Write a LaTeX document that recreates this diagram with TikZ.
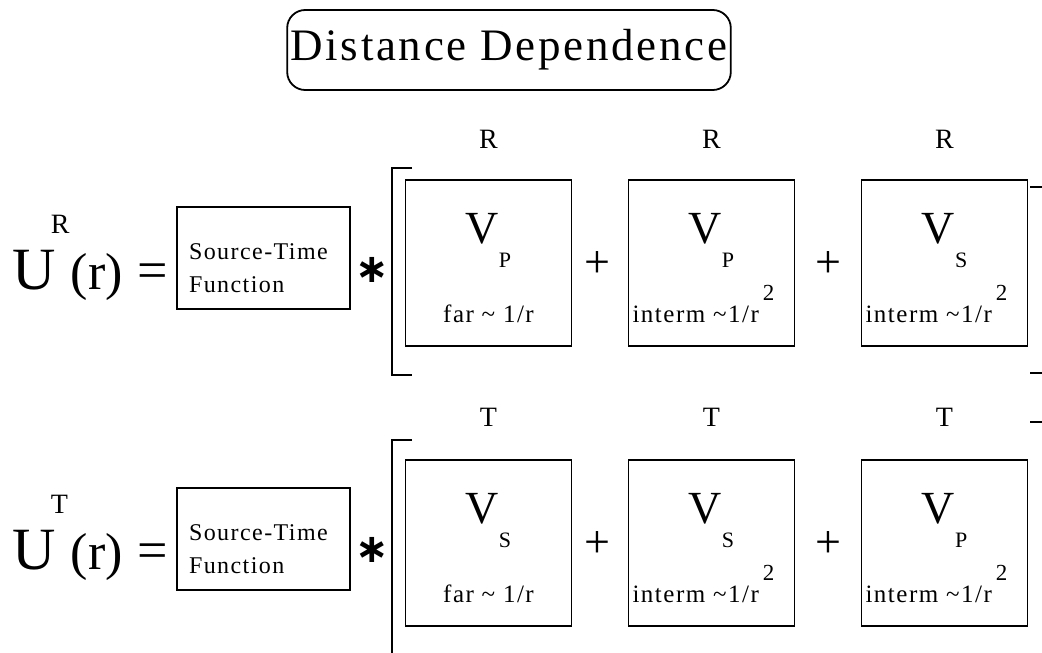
\documentclass[tikz,border=0pt]{standalone}
\usepackage{fontspec}
\setmainfont{Liberation Serif}
\newfontfamily\widefont{Liberation Serif}[LetterSpace=6]
\newfontfamily\starfont{DejaVu Sans Bold}
\usetikzlibrary{positioning}

\newcommand{\wavesub}[1]{\raisebox{-24pt}{\fontsize{22}{22}\selectfont #1}}
\newcommand{\sqpow}{\kern4pt\raisebox{22pt}{\fontsize{23}{23}\selectfont 2}}

\begin{document}
\begin{tikzpicture}[
        x=1pt, y=-1pt,
        line width=1.8pt,
        titlebox/.style={draw, rounded corners=18pt, minimum width=438pt,
            minimum height=80pt, font=\widefont\fontsize{45}{50}\selectfont},
        big/.style={inner sep=0pt, anchor=base west, font=\fontsize{60}{64}\selectfont},
        paren/.style={inner sep=0pt, anchor=base west, font=\fontsize{52}{56}\selectfont},
        op/.style={inner sep=0pt, font=\fontsize{46}{50}\selectfont},
        eqsign/.style={inner sep=0pt, font=\fontsize{54}{58}\selectfont},
        sup/.style={inner sep=0pt, font=\fontsize{28}{30}\selectfont},
        src/.style={draw, minimum width=173pt, minimum height=102pt, inner sep=0pt},
        srctext/.style={inner sep=0pt, anchor=north west,
            font=\widefont\fontsize{24}{28}\selectfont},
        term/.style={draw, minimum width=166pt, minimum height=166pt, inner sep=0pt},
        vee/.style={inner sep=0pt, anchor=base, font=\fontsize{46}{50}\selectfont},
        regime/.style={inner sep=0pt, anchor=base, font=\widefont\fontsize{25}{28}\selectfont},
        star/.style={inner sep=0pt, font=\starfont\fontsize{40}{40}\selectfont},
        bracket/.style={line width=1.8pt}
    ]
    \useasboundingbox (0,0) rectangle (1042,653);

    \node[titlebox] (title) at (509,50) {Distance Dependence};

    % radial component
    \node[big] (ur) at (12,289) {U};
    \node[sup, anchor=base west] (urs) at (50,233) {R};
    \node[paren] (urr) at (70,289) {(r)};
    \node[eqsign] (req) at (153,276) {=};
    \node[src] (rsrc) at (263.5,258) {};
    \node[srctext] (rsrc1) at ([xshift=12pt, yshift=15pt]rsrc.west) {Source-Time};
    \node[srctext, anchor=base west] (rsrc2) at ([yshift=-33pt]rsrc1.base west) {Function};
    \node[star] (rstar) at (372,270) {∗};

    \node[term] (r1) at (488.5,263) {};
    \node[term] (r2) at (711.5,263) {};
    \node[term] (r3) at (944.5,263) {};
    \node[op] (rp1) at (597,265) {+};
    \node[op] (rp2) at (828,265) {+};

    \node[sup, above=30pt of r1] {R};
    \node[sup, above=30pt of r2] {R};
    \node[sup, above=30pt of r3] {R};
    \node[vee] at ([yshift=20pt]r1.center) {V\wavesub{P}};
    \node[vee] at ([yshift=20pt]r2.center) {V\wavesub{P}};
    \node[vee] at ([yshift=20pt]r3.center) {V\wavesub{S}};
    \node[regime] at ([yshift=24pt]r1.south) {far \textasciitilde\ 1/r};
    \node[regime, anchor=base west] at ([xshift=4pt, yshift=24pt]r2.south west)
    {interm \textasciitilde1/r\sqpow};
    \node[regime, anchor=base west] at ([xshift=4pt, yshift=24pt]r3.south west)
    {interm \textasciitilde1/r\sqpow};

    \draw[bracket] (412,168) -- (392,168) -- (392,375) -- (412,375);
    \draw[bracket] (1030,187) -- (1042,187);
    \draw[bracket] (1030,373) -- (1042,373);

    % transverse component
    \node[big] (ut) at (12,569) {U};
    \node[sup, anchor=base west] (uts) at (50,513) {T};
    \node[paren] (utr) at (70,569) {(r)};
    \node[eqsign] (teq) at (153,556) {=};
    \node[src] (tsrc) at (263.5,539) {};
    \node[srctext] (tsrc1) at ([xshift=12pt, yshift=15pt]tsrc.west) {Source-Time};
    \node[srctext, anchor=base west] (tsrc2) at ([yshift=-33pt]tsrc1.base west) {Function};
    \node[star] (tstar) at (372,550) {∗};

    \node[term] (t1) at (488.5,543) {};
    \node[term] (t2) at (711.5,543) {};
    \node[term] (t3) at (944.5,543) {};
    \node[op] (tp1) at (597,545) {+};
    \node[op] (tp2) at (828,545) {+};

    \node[sup, above=32pt of t1] {T};
    \node[sup, above=32pt of t2] {T};
    \node[sup, above=32pt of t3] {T};
    \node[vee] at ([yshift=20pt]t1.center) {V\wavesub{S}};
    \node[vee] at ([yshift=20pt]t2.center) {V\wavesub{S}};
    \node[vee] at ([yshift=20pt]t3.center) {V\wavesub{P}};
    \node[regime] at ([yshift=24pt]t1.south) {far \textasciitilde\ 1/r};
    \node[regime, anchor=base west] at ([xshift=4pt, yshift=24pt]t2.south west)
    {interm \textasciitilde1/r\sqpow};
    \node[regime, anchor=base west] at ([xshift=4pt, yshift=24pt]t3.south west)
    {interm \textasciitilde1/r\sqpow};

    \draw[bracket] (412,440) -- (392,440) -- (392,653);
    \draw[bracket] (1030,422) -- (1042,422);
\end{tikzpicture}
\end{document}
